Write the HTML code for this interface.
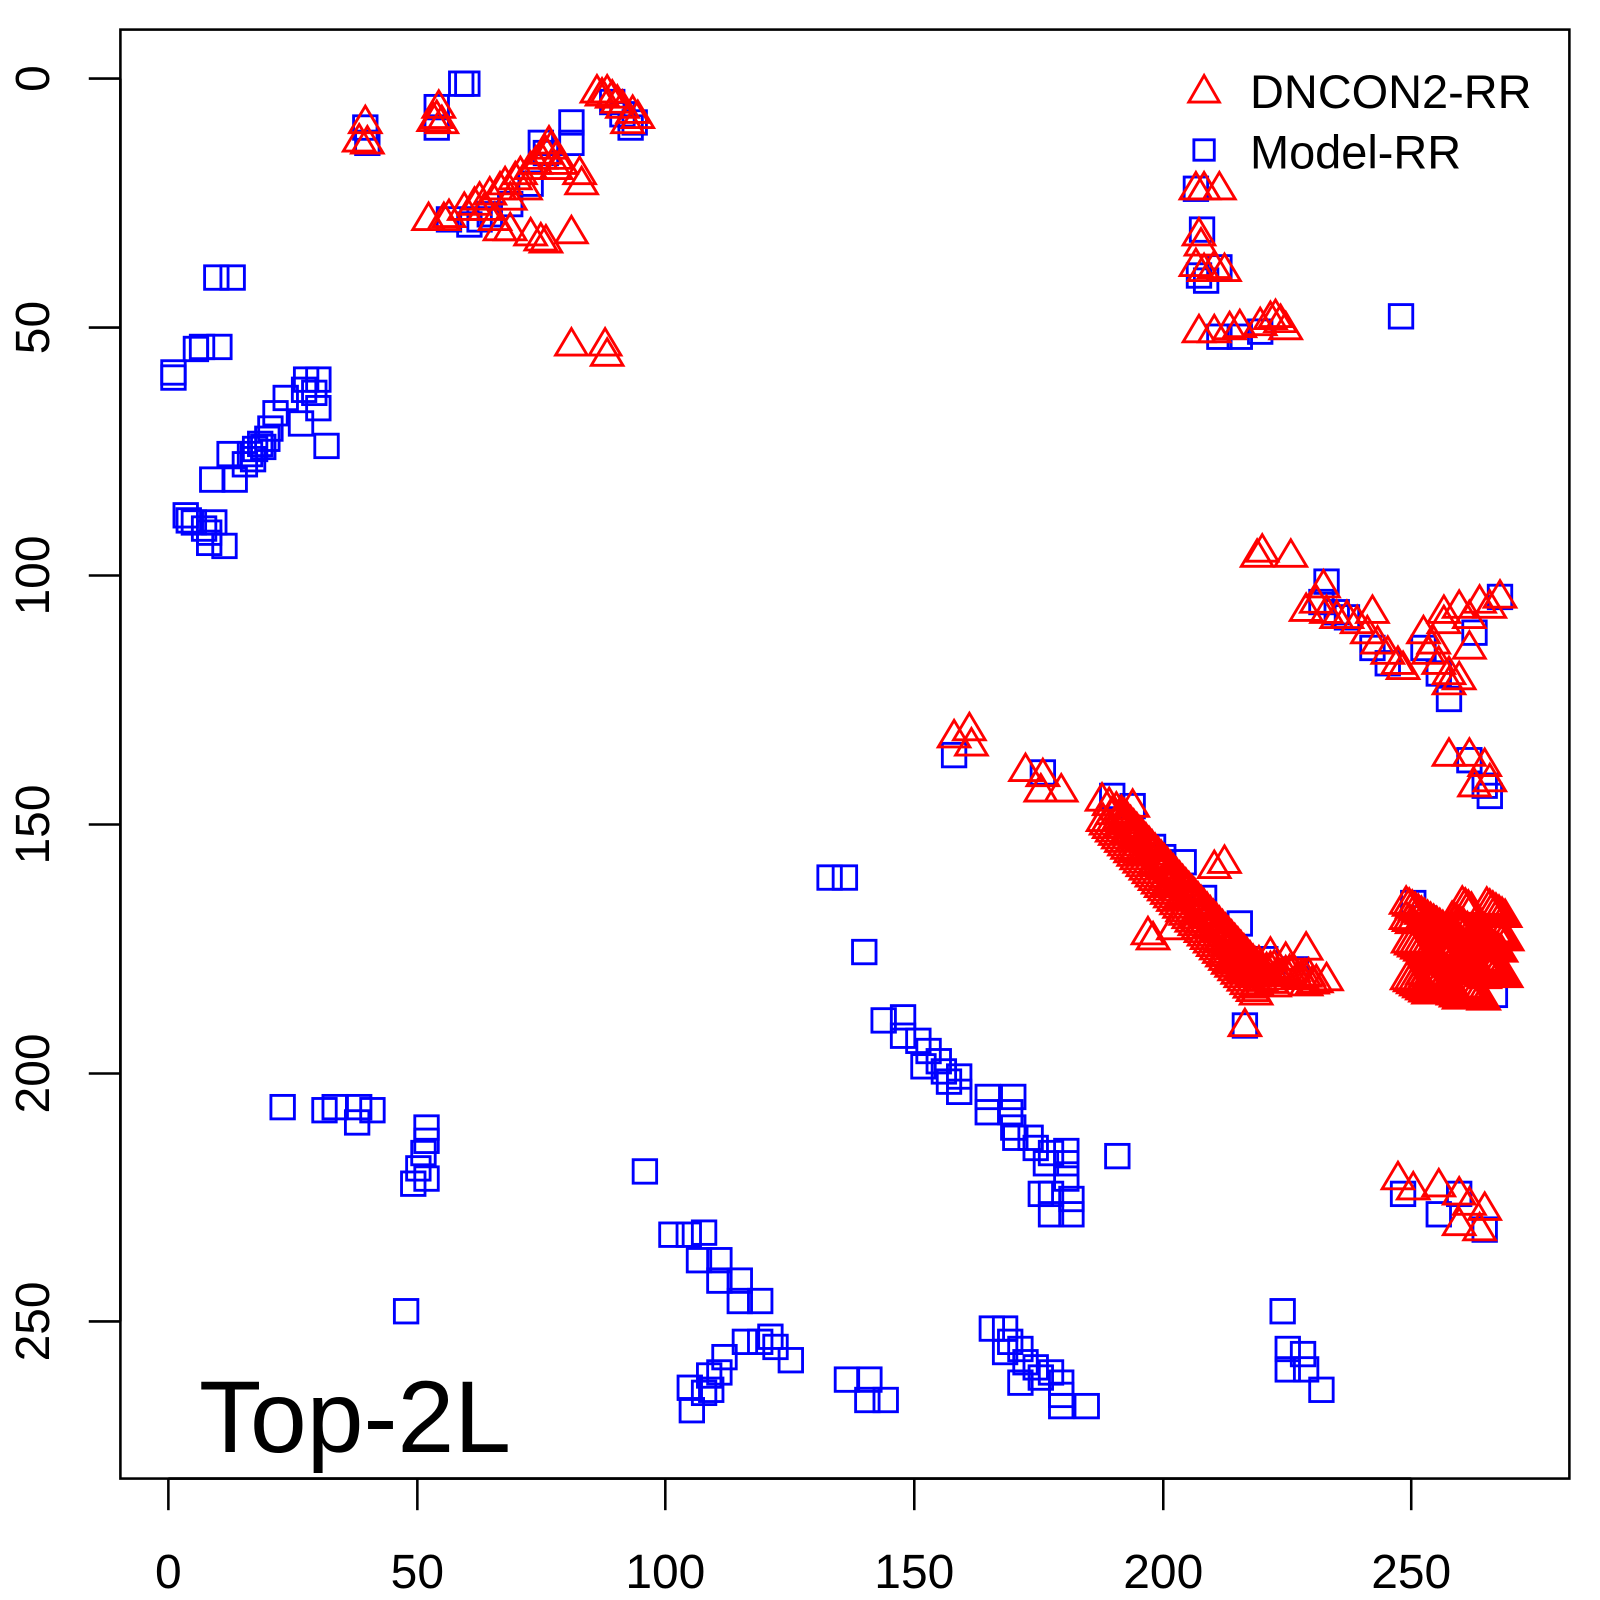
<!DOCTYPE html>
<html><head><meta charset="utf-8"><style>
html,body{margin:0;padding:0;background:#fff;}
svg{display:block;}
text{font-family:"Liberation Sans",Arial,sans-serif;fill:#000;}
</style></head><body>
<svg id="s" width="1600" height="1600" viewBox="0 0 1568 1568" xmlns="http://www.w3.org/2000/svg">
<rect x="0" y="0" width="1568" height="1568" fill="#fff"/>
<g id="pts"></g>
<rect x="118" y="29" width="1420" height="1420" fill="none" stroke="#000" stroke-width="2.5"/>
<g stroke="#000" stroke-width="2.5">
<line x1="165" y1="1449" x2="1383" y2="1449"/>
<line x1="165" y1="1449" x2="165" y2="1480"/><line x1="409" y1="1449" x2="409" y2="1480"/><line x1="652" y1="1449" x2="652" y2="1480"/><line x1="896" y1="1449" x2="896" y2="1480"/><line x1="1140" y1="1449" x2="1140" y2="1480"/><line x1="1383" y1="1449" x2="1383" y2="1480"/>
<line x1="118" y1="77" x2="118" y2="1295"/>
<line x1="87" y1="77" x2="118" y2="77"/><line x1="87" y1="321" x2="118" y2="321"/><line x1="87" y1="564" x2="118" y2="564"/><line x1="87" y1="808" x2="118" y2="808"/><line x1="87" y1="1052" x2="118" y2="1052"/><line x1="87" y1="1295" x2="118" y2="1295"/>
</g>
<g font-size="47" text-anchor="middle">
<text x="165" y="1556">0</text><text x="409" y="1556">50</text><text x="652" y="1556">100</text><text x="896" y="1556">150</text><text x="1140" y="1556">200</text><text x="1383" y="1556">250</text>
<text transform="translate(48,77) rotate(-90)">0</text>
<text transform="translate(48,321) rotate(-90)">50</text>
<text transform="translate(48,564) rotate(-90)">100</text>
<text transform="translate(48,808) rotate(-90)">150</text>
<text transform="translate(48,1052) rotate(-90)">200</text>
<text transform="translate(48,1295) rotate(-90)">250</text>
</g>
<text x="195" y="1423" font-size="100">Top-2L</text>
<polygon points="1180,74 1195,100 1165,100" fill="none" stroke="#f00" stroke-width="2.8"/>
<rect x="1170" y="137" width="20" height="20" fill="none" stroke="#00f" stroke-width="2.8"/>
<text x="1225" y="106" font-size="46">DNCON2-RR</text>
<text x="1225" y="165" font-size="46">Model-RR</text>
</svg>
<script>
var blue=[[170,365],[170,370],[198,340],[192,342],[215,340],[212,272],[228,272],[300,372],[312,372],[308,385],[312,400],[298,382],[280,390],[295,415],[270,405],[265,420],[262,430],[255,435],[250,440],[245,445],[240,455],[248,450],[258,438],[225,445],[230,470],[208,470],[320,437],[182,505],[190,512],[200,518],[210,512],[205,522],[205,532],[220,535],[185,510],
[428,105],[428,125],[452,82],[458,82],[358,125],[360,140],[560,120],[560,140],[530,140],[535,150],[440,215],[460,220],[470,215],[600,100],[622,120],[618,125],[610,112],[500,200],[480,210],[520,180],
[1172,185],[1178,225],[1175,270],[1182,275],[1195,262],[1195,330],[1215,330],[1235,325],[1373,310],
[1300,570],[1295,590],[1310,600],[1320,605],[1345,635],[1360,650],[1395,635],[1410,660],[1420,685],[1440,745],[1455,770],[1460,780],[1445,620],[1470,585],
[935,740],[1022,757],[1090,780],[1110,790],[1130,830],[1140,840],[1160,845],[1215,905],[1220,1005],[1385,885],[1395,900],[1465,975],[1180,880],[1240,940],[1270,950],
[1375,1170],[1410,1190],[1430,1170],[1455,1205],
[813,860],[828,860],[847,933],[866,1000],[885,997],[885,1015],[900,1020],[910,1030],[905,1045],[920,1040],[925,1050],[930,1060],[940,1055],[940,1070],[968,1075],[968,1090],[993,1075],[990,1090],[993,1105],[995,1115],[1010,1115],[1015,1125],[1030,1130],[1025,1140],[1045,1128],[1045,1140],[1045,1155],[1020,1170],[1030,1170],[1030,1190],[1050,1175],[1050,1190],[1095,1133],
[632,1148],[277,1085],[318,1088],[328,1085],[352,1085],[350,1100],[365,1088],[418,1105],[418,1118],[415,1130],[410,1145],[405,1160],[418,1155],[398,1285],
[658,1210],[675,1210],[690,1208],[685,1235],[705,1235],[705,1255],[725,1255],[725,1275],[745,1275],[730,1315],[745,1315],[755,1310],[760,1320],[775,1333],[710,1330],[705,1345],[695,1348],[690,1365],[676,1360],[678,1382],[697,1362],
[830,1352],[852,1352],[850,1372],[868,1372],[972,1302],[985,1302],[990,1315],[1000,1322],[1005,1335],[1015,1340],[1020,1350],[1030,1345],[1040,1355],[1040,1367],[1040,1378],[1065,1378],[1000,1355],[985,1325],
[1257,1285],[1262,1322],[1262,1342],[1277,1327],[1280,1342],[1295,1362]];
var red=[[358,120],[352,138],[360,140],[430,105],[428,115],[433,120],[425,118],
[420,215],[435,215],[440,212],[455,205],[465,200],[470,195],[480,190],[490,185],[495,180],[505,175],[510,170],[520,165],[525,160],[530,155],[535,150],[540,145],[545,155],[550,160],[545,165],[538,140],[475,205],[500,195],[515,185],[485,215],
[490,225],[500,225],[520,230],[530,235],[535,237],[560,228],[568,170],[570,180],[560,338],[593,338],[595,348],
[585,90],[590,93],[595,90],[600,95],[605,100],[610,105],[620,110],[625,115],[615,120],
[1172,185],[1180,185],[1195,185],[1175,230],[1177,240],[1172,260],[1180,265],[1190,262],[1200,265],[1175,325],[1190,325],[1205,322],[1215,320],[1235,318],[1245,312],[1255,315],[1260,322],[1250,310],
[1237,540],[1232,545],[1265,545],[1297,575],[1290,590],[1280,598],[1300,600],[1310,605],[1320,605],[1330,610],[1340,620],[1345,600],[1350,630],[1360,640],[1370,650],[1375,655],[1395,620],[1400,640],[1410,650],[1420,660],[1415,600],[1430,595],[1440,605],[1450,590],[1460,595],[1470,585],[1440,635],[1420,670],[1430,665],[1415,610],[1405,630],
[950,715],[935,722],[952,730],[1005,755],[1022,760],[1020,775],[1040,775],
[1420,740],[1440,740],[1455,750],[1460,765],[1445,770],
[1110,790],[1200,845],[1190,850],[1125,915],[1150,910],[1130,920],[1245,935],[1260,940],[1280,930],[1300,960],[1280,965],[1220,1005],
[1370,1155],[1385,1165],[1410,1162],[1430,1170],[1440,1180],[1455,1185],[1430,1200],[1450,1205]];
for(var i=0;i<=50;i++){var t=i/50;var x=1085+t*150,y=790+t*170;red.push([x+((i*37)%11-5),y+((i*53)%13-6)]);red.push([x+14,y+6]);red.push([x-4,y+14]);}
for(var i=0;i<=24;i++){var t=i/24;red.push([1200+t*90,940+t*20+((i*7)%9-4)]);}
for(var i=0;i<120;i++){var x=1378+((i*29)%100),y=885+((i*41)%95);red.push([x,y]);}
var g=document.getElementById('pts'),h="";
blue.forEach(function(p){h+='<rect x="'+(p[0]-11.5)+'" y="'+(p[1]-11.5)+'" width="23" height="23" fill="none" stroke="#00f" stroke-width="2.8"/>';});
red.forEach(function(p){var x=p[0],y=p[1];h+='<polygon points="'+x+','+(y-16)+' '+(x+15.5)+','+(y+10)+' '+(x-15.5)+','+(y+10)+'" fill="none" stroke="#f00" stroke-width="2.8"/>';});
g.innerHTML=h;
</script>
</body></html>
